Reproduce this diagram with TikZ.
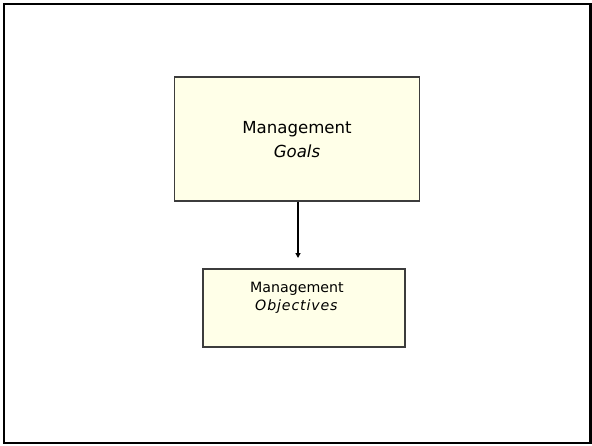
\documentclass[tikz,border=0pt]{standalone}
\usepackage{fontspec}
\setmainfont{DejaVu Sans}
\usetikzlibrary{arrows.meta}
\definecolor{boxfill}{RGB}{255,255,232}
\definecolor{boxline}{RGB}{60,60,60}
\tikzset{
  box/.style={draw=boxline, line width=1.2pt, fill=boxfill, inner sep=0pt},
  link/.style={draw=black, line width=1.2pt, -{Triangle[length=5pt,width=5pt]}}
}
\begin{document}
\begin{tikzpicture}[x=1pt,y=-1pt]
\useasboundingbox (0,0) rectangle (592,445);
\draw[line width=2.6pt] (4,4) rectangle (590.5,443);
\node[box, minimum width=245pt, minimum height=124pt] (goals) at (297,139) {};
\node[align=center, font=\fontsize{16.6}{24}\selectfont] (goalstext) at (297,140) {Management\\ \textit{Goals}};
\node[box, minimum width=202pt, minimum height=78pt] (obj) at (304,308) {};
\node[align=left, font=\fontsize{14.2}{17.5}\selectfont] (objtext) at (297,298) {Management\\ \hspace*{5pt}{\itshape\addfontfeature{LetterSpace=6}Objectives}};
\coordinate (tip) at (298,258);
\draw[link] (goals.south -| tip) -- (tip);
\end{tikzpicture}
\end{document}
